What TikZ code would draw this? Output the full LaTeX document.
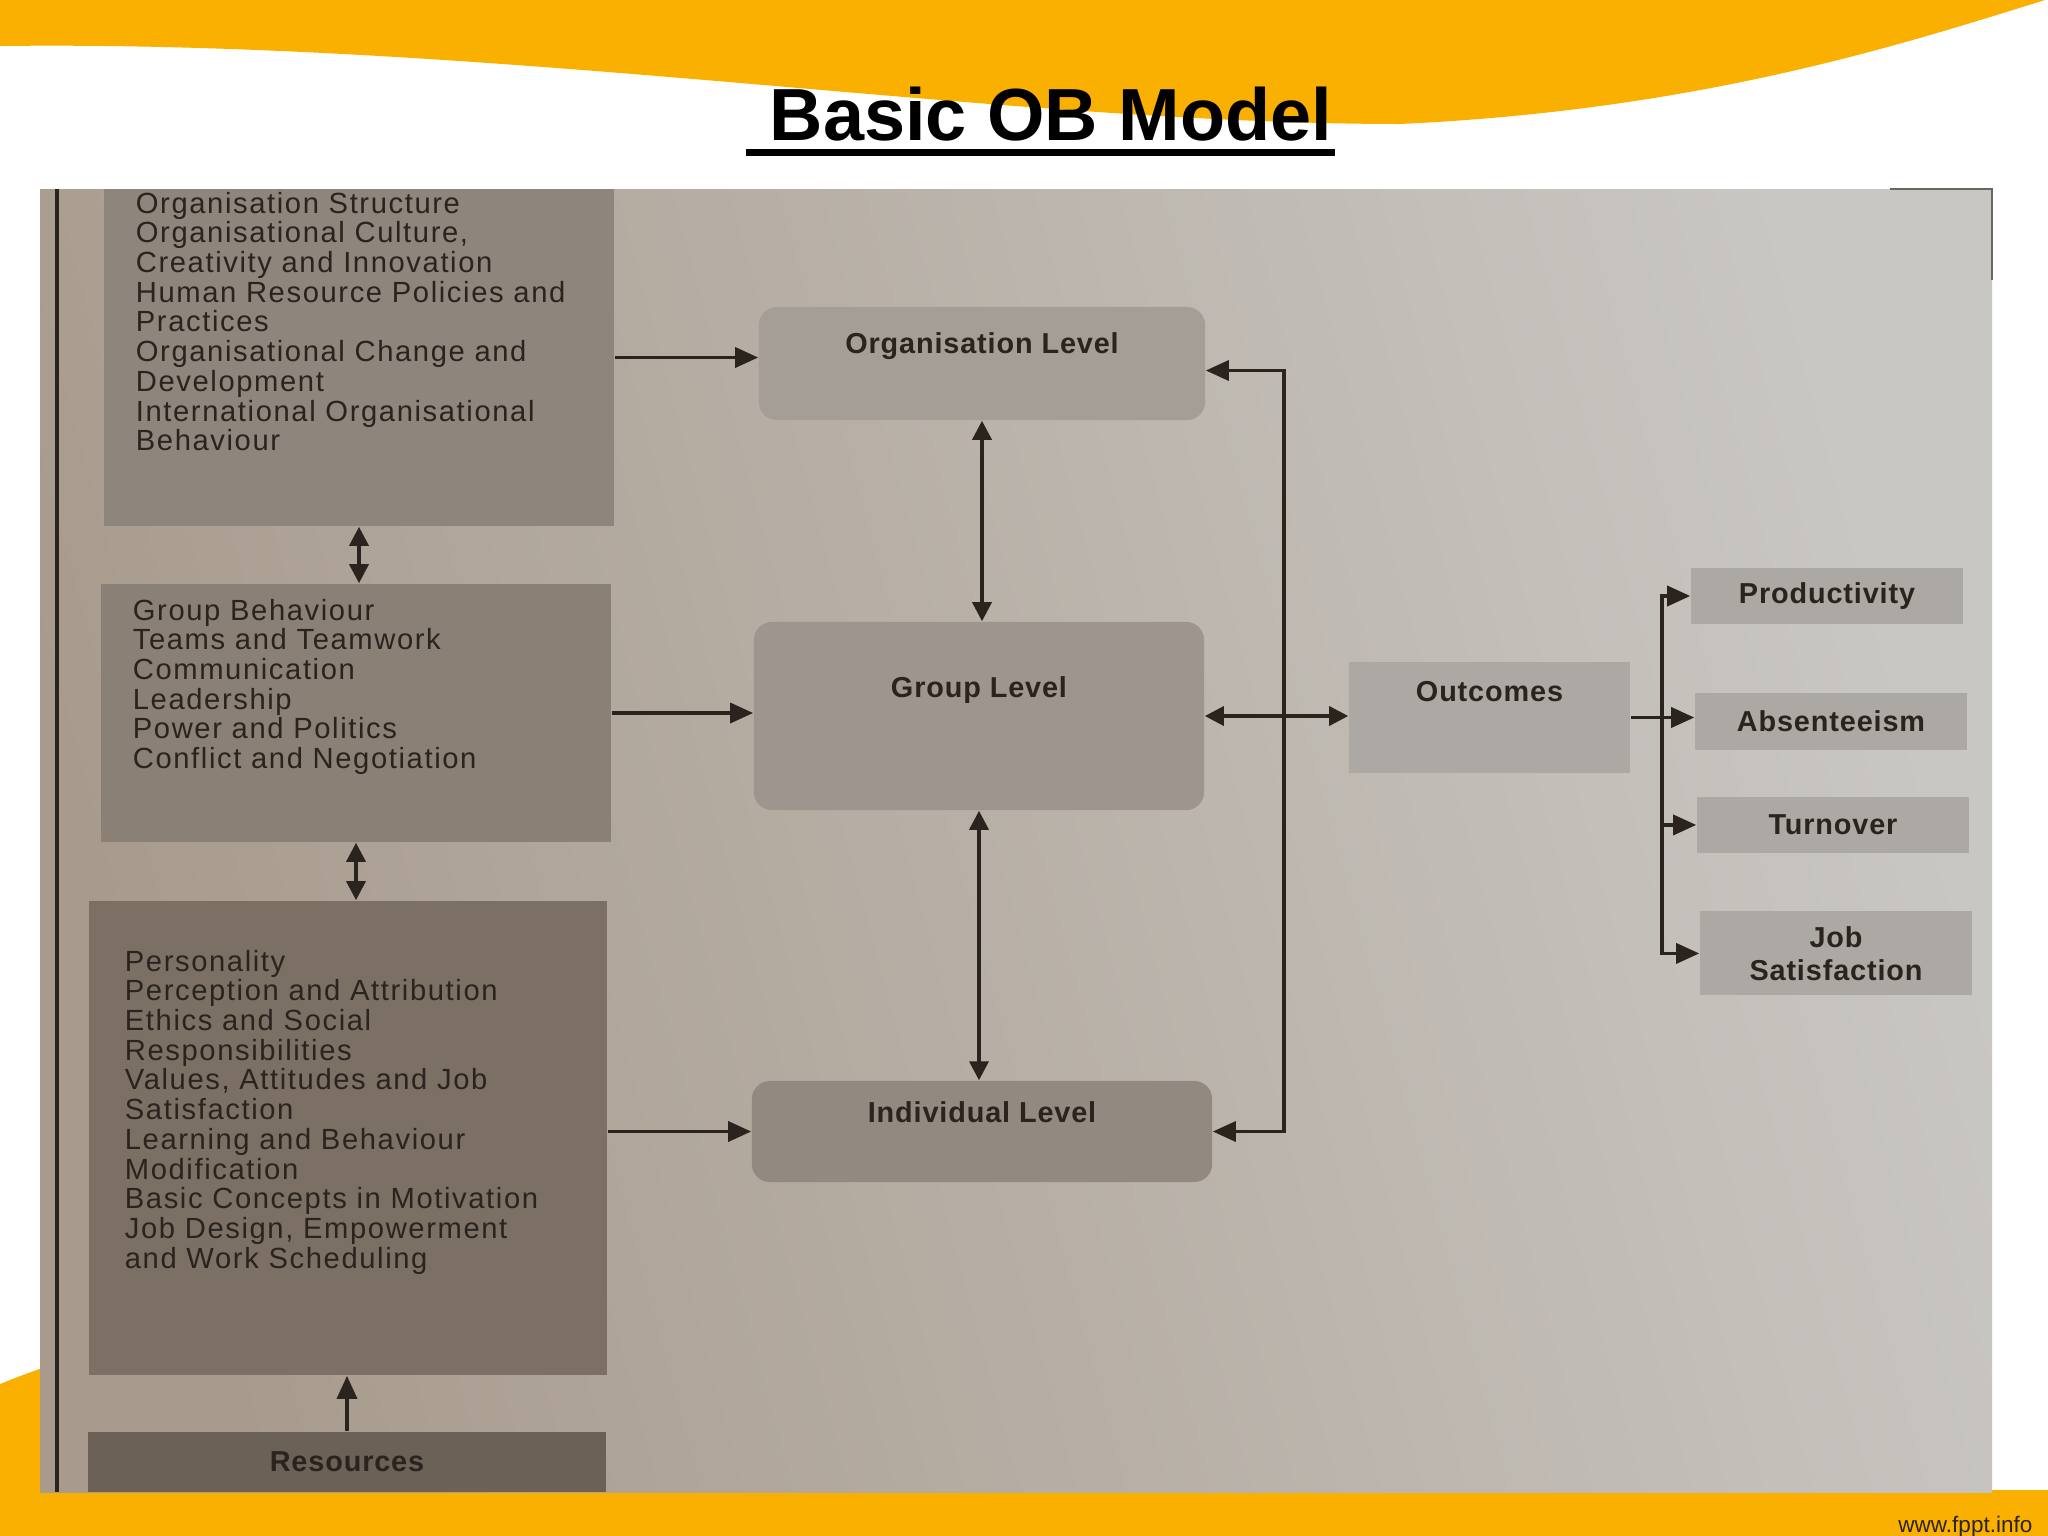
\documentclass[tikz,border=0pt]{standalone}
\usepackage{fontspec}
\setmainfont{Liberation Sans}
\newfontfamily\tagfont[LetterSpace=3]{Liberation Sans}
\newfontfamily\listfont[LetterSpace=5.5]{Liberation Sans}
\usepackage{xcolor}
\usetikzlibrary{arrows.meta,positioning,calc}

\definecolor{slideorange}{RGB}{249,176,0}
\definecolor{ink}{RGB}{42,35,30}
\definecolor{paperwarm}{RGB}{168,155,141}
\definecolor{papercool}{RGB}{201,199,195}
\definecolor{factorA}{RGB}{142,133,124}
\definecolor{factorB}{RGB}{138,128,118}
\definecolor{factorC}{RGB}{124,112,101}
\definecolor{factorD}{RGB}{108,97,87}
\definecolor{levelA}{RGB}{165,158,151}
\definecolor{levelB}{RGB}{158,150,142}
\definecolor{levelC}{RGB}{146,137,128}
\definecolor{resultbg}{RGB}{172,169,165}

\begin{document}
\lineskiplimit=-100pt
\begin{tikzpicture}[
  x=0.01cm, y=-0.01cm,
  factor/.style={fill=factorA, inner sep=0pt, minimum width=5.1cm},
  factortext/.style={align=left, inner sep=0pt, text=ink,
                     font=\listfont\fontsize{8.3}{8.45}\selectfont},
  tagtext/.style={text=ink, font=\tagfont\bfseries\fontsize{8.2}{9.4}\selectfont},
  level/.style={rounded corners=0.18cm, fill=levelA, inner sep=0pt, tagtext},
  result/.style={fill=resultbg, inner sep=0pt, align=center, tagtext,
                 minimum width=2.72cm, minimum height=0.56cm},
  arrow/.style={-{Triangle[length=0.23cm, width=0.2cm]}, line width=0.035cm, draw=ink},
  dblarrow/.style={{Triangle[length=0.19cm, width=0.19cm]}-{Triangle[length=0.19cm, width=0.19cm]},
                   line width=0.035cm, draw=ink}
]
\useasboundingbox (0,0) rectangle (2048,1536);
\fill[white] (0,0) rectangle (2048,1536);

\fill[slideorange] (0,0) -- (2045,0) .. controls (1900,45) and (1700,110) .. (1400,124)
  .. controls (1000,124) and (500,40) .. (0,46) -- cycle;
\fill[slideorange] (0,1384) .. controls (15,1378) and (30,1372) .. (60,1362)
  -- (60,1490) -- (2048,1490) -- (2048,1536) -- (0,1536) -- cycle;

\fill[left color=paperwarm, right color=papercool, shading angle=105] (40,189) rectangle (1992,1492);
\draw[ink, line width=0.045cm] (57,189) -- (57,1492);
\draw[ink!70, line width=0.025cm] (1890,189) -- (1992,189) -- (1992,280);

\node[anchor=base, inner sep=0pt, font=\bfseries\fontsize{21}{25}\selectfont] (title) at (1051,140) {Basic OB Model};
\draw[line width=0.07cm] ($(title.base west)+(-23,12)$) -- ($(title.base east)+(2,12)$);

\node[factor, minimum height=3.37cm,
  label={[factortext, anchor=north west, xshift=0.32cm, yshift=-0.03cm]north west:{Organisation Structure\\Organisational Culture,\\Creativity and Innovation\\Human Resource Policies and\\Practices\\Organisational Change and\\Development\\International Organisational\\Behaviour}}]
  (orgf) at (359,357.5) {};
\node[factor, fill=factorB, minimum height=2.58cm,
  label={[factortext, anchor=north west, xshift=0.32cm, yshift=-0.15cm]north west:{Group Behaviour\\Teams and Teamwork\\Communication\\Leadership\\Power and Politics\\Conflict and Negotiation}}]
  (groupf) at (356,713) {};
\node[factor, fill=factorC, minimum width=5.18cm, minimum height=4.74cm,
  label={[factortext, anchor=north west, xshift=0.36cm, yshift=-0.49cm]north west:{Personality\\Perception and Attribution\\Ethics and Social\\Responsibilities\\Values, Attitudes and Job\\Satisfaction\\Learning and Behaviour\\Modification\\Basic Concepts in Motivation\\Job Design, Empowerment\\and Work Scheduling}}]
  (indf) at (348,1138) {};
\node[factor, fill=factorD, minimum width=5.18cm, minimum height=0.6cm, tagtext] (res) at (347,1462) {Resources};

\node[level, minimum width=4.46cm, text height=0.46cm, text depth=0.67cm] (orglvl) at (982,363.5) {Organisation Level};
\node[level, fill=levelB, minimum width=4.5cm, text height=0.75cm, text depth=1.13cm] (grouplvl) at (979,716) {Group Level};
\node[level, fill=levelC, minimum width=4.6cm, text height=0.41cm, text depth=0.60cm] (indlvl) at (982,1131.5) {Individual Level};

\node[result, minimum width=2.81cm, minimum height=0cm, text height=0.39cm, text depth=0.72cm] (outcomes) at (1489.5,717.5) {Outcomes};
\node[result] (prod) at (1827,596) {Productivity};
\node[result, below=0.68cm of prod, xshift=0.04cm] (abs) {Absenteeism};
\node[result, below=0.46cm of abs, xshift=0.02cm] (turn) {Turnover};
\node[result, minimum height=0.84cm, below=0.57cm of turn, xshift=0.03cm] (jobsat) {Job\\Satisfaction};

\draw[arrow] (orgf.east) -- (orgf.east -| orglvl.west);
\draw[arrow] (groupf.east) -- (groupf.east -| grouplvl.west);
\draw[arrow] (indf.east |- indlvl.west) -- (indlvl.west);
\draw[dblarrow] (orgf.south) -- (orgf.south |- groupf.north);
\draw[dblarrow] (groupf.south) -- (groupf.south |- indf.north);
\draw[arrow] (res.north) -- (res.north |- indf.south);
\draw[dblarrow] (orglvl.south) -- (orglvl.south |- grouplvl.north);
\draw[dblarrow] (grouplvl.south) -- (grouplvl.south |- indlvl.north);

\coordinate (loop) at (1284,717);
\draw[arrow] (loop) |- ([yshift=-0.07cm]orglvl.east);
\draw[arrow] (loop) |- (indlvl.east);
\draw[dblarrow] (grouplvl.east) -- (grouplvl.east -| outcomes.west);

\coordinate (fork) at (1662,717.5);
\draw[arrow] (outcomes.east) -- (outcomes.east -| abs.west);
\draw[arrow] (fork) |- (prod.west);
\draw[arrow] (fork) |- (turn.west);
\draw[arrow] (fork) |- (jobsat.west);

\node[anchor=base east, inner sep=0pt, text=ink, font=\fontsize{6.4}{7.5}\selectfont] (site) at (2033,1532) {www.fppt.info};
\end{tikzpicture}
\end{document}
